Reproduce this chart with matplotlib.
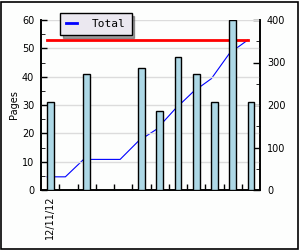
import matplotlib
matplotlib.use("Agg")
import matplotlib.pyplot as plt
from matplotlib.patches import Rectangle

# Data
dates = ["12/11/12", "", "", "", "", "", "", "", "", "", "", ""]
pages = [31, 0, 41, 0, 0, 43, 28, 47, 41, 31, 60, 31]
total = [31, 31, 72, 72, 72, 115, 143, 190, 231, 262, 322, 353]
target = 353

plt.rcParams['font.family'] = ['DejaVu Sans']
plt.rcParams['font.size'] = 7

fig = plt.figure(figsize=(3, 2.5), dpi=100)
fig.patch.set_facecolor('#fdfefd')
fig.patches.append(Rectangle((0.002, 0.004), 0.992, 0.99, transform=fig.transFigure,
                             fill=False, edgecolor='black', linewidth=1.2))

ax = fig.add_axes([0.137, 0.24, 0.73, 0.68])
ax2 = ax.twinx()

x = list(range(len(dates)))
xs = [i for i in x if pages[i] > 0]
hs = [pages[i] for i in xs]

# cumulative line and target on the right axis
xl = [i - 0.17 for i in x]
ax2.plot(xl, total, color='blue', linewidth=0.8)
ax2.plot([xl[0], xl[-1]], [target, target], color='red', linewidth=2)
ax2.set_ylim(0, 400)
ax2.set_yticks([0, 100, 200, 300, 400])
ax2.set_yticks([50, 150, 250, 350], minor=True)
ax2.tick_params(axis='y', direction='in', length=5, width=1, pad=5)
ax2.tick_params(axis='y', which='minor', direction='in', length=3)

# bars on top of the lines
ax.set_zorder(ax2.get_zorder() + 1)
ax.patch.set_visible(False)
ax.bar(xs, hs, width=0.38, color='#add8e6', edgecolor='black', linewidth=1, zorder=3)
ax.set_ylim(0, 60)
ax.set_xlim(-0.5, len(dates) - 0.5)
ax.set_yticks(range(0, 61, 10))
ax.set_yticks(range(5, 60, 10), minor=True)
ax.tick_params(axis='y', direction='in', length=4, width=1, pad=5)
ax.tick_params(axis='y', which='minor', direction='in', length=3)
ax.set_ylabel("Pages", labelpad=2)
ax.grid(axis='y', color='#dcdcdc', linewidth=1)
ax.set_axisbelow(True)

ax.set_xticks([i + 0.5 for i in x[:-1]])
ax.set_xticklabels([])
ax.tick_params(axis='x', direction='in', length=4, width=1)
ax.set_xticks(x[:1], labels=dates[:1], minor=True)
ax.tick_params(axis='x', which='minor', length=0, rotation=90, pad=4)

for a in (ax, ax2):
    a.spines['top'].set_visible(False)
    for s in ('left', 'right', 'bottom'):
        a.spines[s].set_linewidth(1.2)

leg_line, = ax.plot([], [], color='blue', linewidth=2, label='Total')
leg = ax.legend(handles=[leg_line], loc='upper left', bbox_to_anchor=(0.2, 0.948),
                bbox_transform=fig.transFigure,
                frameon=True, fancybox=False, shadow=True, edgecolor='black',
                facecolor='#ebe8f0', framealpha=1, handlelength=1.0,
                handletextpad=1.3, borderpad=0.55, borderaxespad=0,
                prop={'family': 'DejaVu Sans Mono', 'size': 8})
leg.get_frame().set_linewidth(1)

fig.savefig("out.png", dpi=100, facecolor=fig.get_facecolor())
